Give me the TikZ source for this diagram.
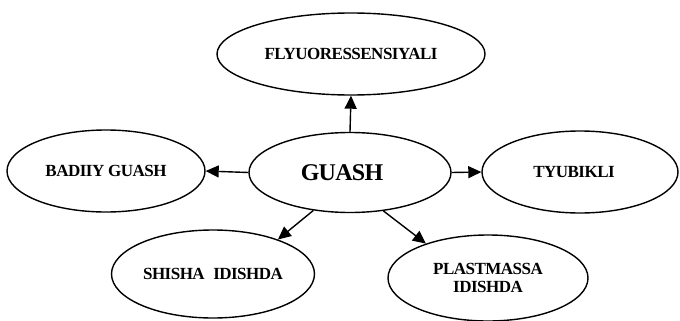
\documentclass[tikz,border=0pt]{standalone}
\usepackage{fontspec}
\setmainfont{Liberation Serif}
\newfontfamily\labelfont[LetterSpace=-3]{Liberation Serif}
\usetikzlibrary{shapes.geometric,arrows.meta}
\tikzset{
  oval/.style={ellipse, draw=black, line width=1.4pt, inner sep=0pt, align=center,
    font=\labelfont\fontsize{17}{18}\selectfont\bfseries},
  link/.style={line width=1.4pt, -{Triangle[length=13pt,width=12pt]}}
}
\begin{document}
\begin{tikzpicture}[x=1pt,y=-1pt]
\useasboundingbox (0,0) rectangle (680,321);
\node[oval, minimum width=268pt, minimum height=82pt] (top) at (351,54) {FLYUORESSENSIYALI};
\node[oval, minimum width=202pt, minimum height=80pt, font=\labelfont\fontsize{24}{25}\selectfont\bfseries] (guash) at (350,172.5) {\hspace*{-16pt}GUASH};
\node[oval, minimum width=198pt, minimum height=82pt] (badiiy) at (106,171) {BADIIY GUASH};
\node[oval, minimum width=196pt, minimum height=82pt] (tyub) at (580,172) {\hspace*{-12pt}TYUBIKLI};
\node[oval, minimum width=203pt, minimum height=88pt] (shisha) at (213,274) {SHISHA\hspace{0.5em}IDISHDA};
\node[oval, minimum width=200pt, minimum height=86pt] (plast) at (488,278) {PLASTMASSA\\IDISHDA};
\draw[link] (guash.north) -- (top.south);
\draw[link] (guash.west) -- (badiiy.east);
\draw[link] (guash.east) -- (tyub.west);
\draw[link] (guash.226) -- (shisha.28);
\draw[link] (guash.311) -- (plast.151);
\end{tikzpicture}
\end{document}
